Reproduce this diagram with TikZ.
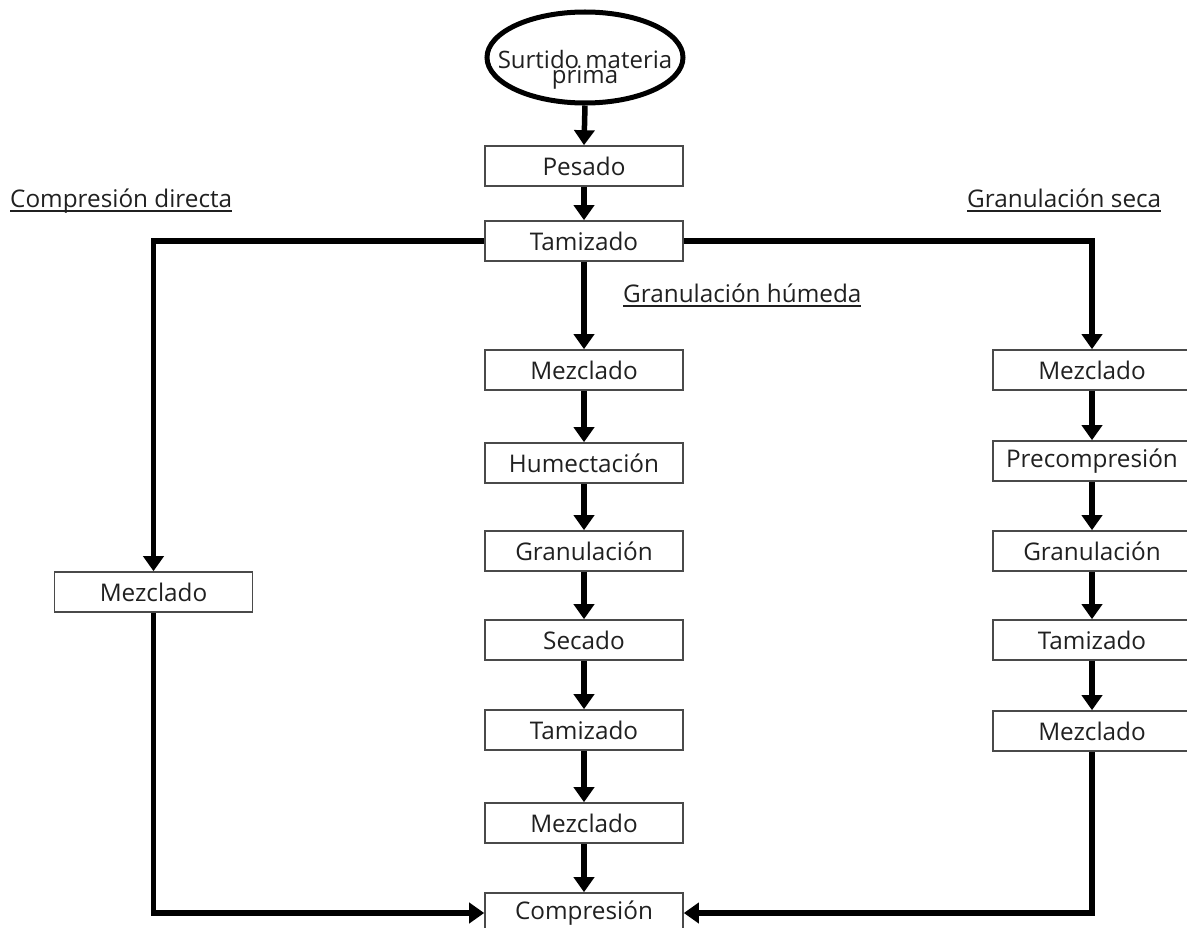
\documentclass[tikz,border=0pt]{standalone}
\usepackage{fontspec}
\setmainfont{Open Sans}
\usetikzlibrary{shapes.geometric,arrows.meta}
% text with a rule under it, drawn through the descenders
\newcommand\ulabel[1]{\setbox0=\hbox{#1}\rlap{\rule[-4.5pt]{\wd0}{2pt}}\box0}
\newcommand\tightlines{\lineskiplimit=-50pt\relax\lineskip=0pt\relax}
\definecolor{inkgray}{HTML}{202020}
\definecolor{edgegray}{HTML}{4A4A4A}
\begin{document}
\begin{tikzpicture}[x=1pt,y=-1pt,
  stepbox/.style={draw=edgegray, line width=1.6pt, minimum width=198pt,
    minimum height=40pt, inner sep=0pt, font=\fontsize{24.3}{28}\selectfont, text=inkgray},
  sourceshape/.style={ellipse, draw=black, line width=5pt, minimum width=196pt,
    minimum height=91pt, inner sep=0pt},
  sourcetext/.style={align=center, inner sep=0pt, text=inkgray,
    font=\fontsize{24}{15}\selectfont\tightlines},
  flow/.style={line width=5.5pt, -{Triangle[width=20pt,length=15pt]}},
  route/.style={font=\fontsize{24.3}{28}\selectfont, text=inkgray, inner sep=0pt, anchor=base west}]
\useasboundingbox (0,0) rectangle (1187,928);

% start
\node[sourceshape] (src) at (585,57.5) {};
\node[sourcetext] (srctxt) at (585,70) {Surtido materia\\prima};

% common steps
\node[stepbox] (pes) at (584,166) {Pesado};
\node[stepbox] (tam) at (584,241) {Tamizado};

% wet granulation
\node[stepbox] (wm)   at (584,370) {Mezclado};
\node[stepbox] (hum)  at (584,463) {Humectación};
\node[stepbox] (wgr)  at (584,551) {Granulación};
\node[stepbox] (sec)  at (584,640) {Secado};
\node[stepbox] (wtam) at (584,730) {Tamizado};
\node[stepbox] (wmz)  at (584,823) {Mezclado};
\node[stepbox] (comp) at (584,913) {Compresión};

% direct compression
\node[stepbox] (dm) at (153.5,592) {Mezclado};

% dry granulation
\node[stepbox] (sm)   at (1092,370) {Mezclado};
\node[stepbox] (spre) at (1092,461) {Precompresión};
\node[stepbox] (sgr)  at (1092,551) {Granulación};
\node[stepbox] (stam) at (1092,640) {Tamizado};
\node[stepbox] (smz)  at (1092,731) {Mezclado};

% route titles
\node[route] (lcd) at (10,208)  {\ulabel{Compresión directa}};
\node[route] (lgh) at (623,303) {\ulabel{Granulación húmeda}};
\node[route] (lgs) at (967,208) {\ulabel{Granulación seca}};

% connectors
\draw[flow] (src.south) -- (pes.north);
\draw[flow] (pes) -- (tam);
\draw[flow] (tam) -- (wm);
\draw[flow] (wm) -- (hum);
\draw[flow] (hum) -- (wgr);
\draw[flow] (wgr) -- (sec);
\draw[flow] (sec) -- (wtam);
\draw[flow] (wtam) -- (wmz);
\draw[flow] (wmz) -- (comp);

\draw[flow] (tam.west) -| (dm.north);
\draw[flow] (dm.south) |- (comp.west);

\draw[flow] (tam.east) -| (sm.north);
\draw[flow] (sm) -- (spre);
\draw[flow] (spre) -- (sgr);
\draw[flow] (sgr) -- (stam);
\draw[flow] (stam) -- (smz);
\draw[flow] (smz.south) |- (comp.east);
\end{tikzpicture}
\end{document}
